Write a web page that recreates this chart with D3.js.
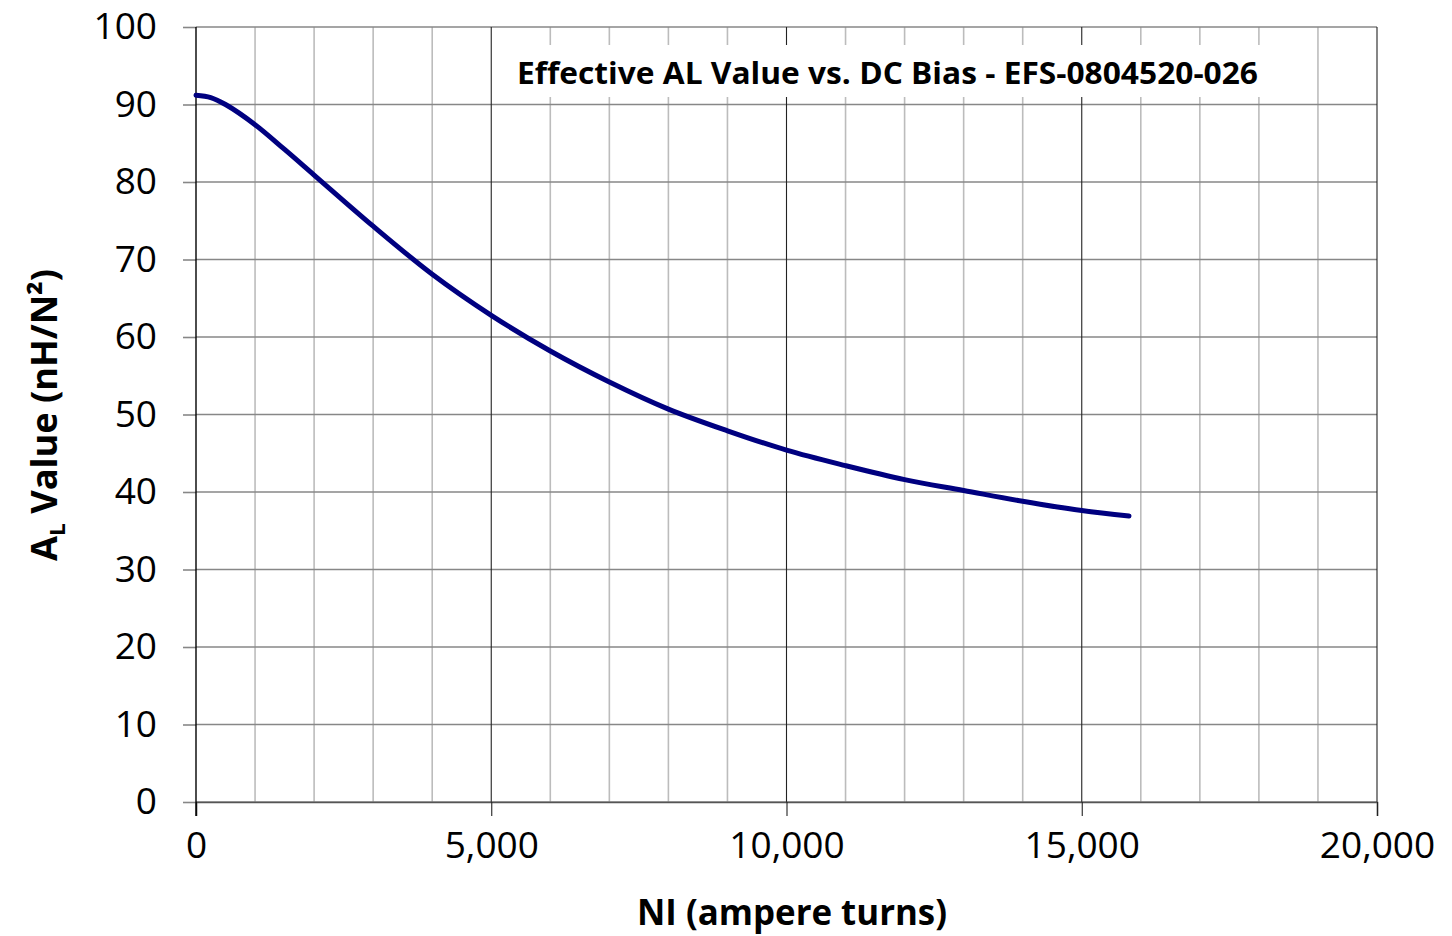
<!DOCTYPE html>
<html>
<head>
<meta charset="utf-8">
<script src="https://cdn.jsdelivr.net/npm/d3@7"></script>
<style>
  body { margin: 0; background: #fff; }
  text { font-family: "Open Sans", "DejaVu Sans", sans-serif; fill: #000; }
</style>
</head>
<body>
<svg id="chart"></svg>
<script>
// NI (ampere turns) vs effective AL value (nH/N^2)
var niValues = [0, 250, 500, 1000, 1500, 2000, 3000, 4000, 5000, 6000, 7000, 8000, 9000, 10000, 11000, 12000, 13000, 14000, 15000, 15800];
var alValues = [91.2, 90.9, 90.0, 87.4, 84.2, 80.9, 74.3, 68.1, 62.8, 58.2, 54.2, 50.7, 47.9, 45.4, 43.4, 41.6, 40.2, 38.8, 37.6, 36.9];
var xTicks = [0, 5000, 10000, 15000, 20000];
var xMinor = d3.range(0, 20001, 1000);
var yTicks = d3.range(0, 101, 10);
var chartTitle = "Effective AL Value vs. DC Bias - EFS-0804520-026";

var width = 1452, height = 936;
var margin = { top: 27, right: 75, bottom: 134, left: 196 };

var svg = d3.select("#chart").attr("width", width).attr("height", height);

var xScale = d3.scaleLinear().domain([0, 20000]).range([margin.left, width - margin.right]);
var yScale = d3.scaleLinear().domain([0, 100]).range([height - margin.bottom, margin.top]);

var grid = svg.append("g");

// vertical minor gridlines
grid.selectAll("line.vminor").data(xMinor.filter(function (d) { return d % 5000 != 0; }))
  .enter().append("line").attr("class", "vminor")
  .attr("x1", function (d) { return xScale(d); }).attr("x2", function (d) { return xScale(d); })
  .attr("y1", yScale(100)).attr("y2", yScale(0))
  .attr("stroke", "#bcbcbc").attr("stroke-width", 1.6);

// horizontal gridlines
grid.selectAll("line.h").data(yTicks)
  .enter().append("line").attr("class", "h")
  .attr("x1", xScale(0)).attr("x2", xScale(20000))
  .attr("y1", function (d) { return yScale(d); }).attr("y2", function (d) { return yScale(d); })
  .attr("stroke", "#878787").attr("stroke-width", 1.6);

// major vertical gridlines
grid.selectAll("line.vmajor").data(xTicks.slice(1))
  .enter().append("line").attr("class", "vmajor")
  .attr("x1", function (d) { return xScale(d); }).attr("x2", function (d) { return xScale(d); })
  .attr("y1", yScale(100)).attr("y2", yScale(0))
  .attr("stroke", "#222").attr("stroke-width", 1.1);

// axes
var xAxis = d3.axisBottom(xScale).tickValues(xTicks).tickSize(14).tickPadding(16)
  .tickFormat(d3.format(","));
var gx = svg.append("g").attr("transform", "translate(0," + yScale(0) + ")").call(xAxis);
gx.select(".domain").attr("stroke", "#555").attr("stroke-width", 1.6);
gx.selectAll(".tick line").attr("stroke", "#222").attr("stroke-width", 1.1);
gx.selectAll(".tick text").style("font-size", "37px").attr("dy", "0.71em");

var yAxis = d3.axisLeft(yScale).tickValues(yTicks).tickSize(13).tickPadding(26);
var gy = svg.append("g").attr("transform", "translate(" + xScale(0) + ",0)").call(yAxis);
gy.select(".domain").remove();
gy.selectAll(".tick line").attr("stroke", "#878787").attr("stroke-width", 1.6);
gy.selectAll(".tick text").style("font-size", "37px");
gy.append("line").attr("x1", 0).attr("x2", 0).attr("y1", yScale(100)).attr("y2", yScale(0) + 14)
  .attr("stroke", "#000").attr("stroke-width", 1.4);

// the curve
var line = d3.line()
  .x(function (d, i) { return xScale(niValues[i]); })
  .y(function (d, i) { return yScale(alValues[i]); })
  .curve(d3.curveCatmullRom.alpha(0.5));
svg.append("path").datum(alValues).attr("d", line)
  .attr("fill", "none").attr("stroke", "#000080").attr("stroke-width", 5)
  .attr("stroke-linecap", "round");

// title with white box
svg.append("rect").attr("x", 505).attr("y", 45).attr("width", 765).attr("height", 52).attr("fill", "#fff");
svg.append("text").attr("x", 517).attr("y", 84)
  .attr("textLength", 741).attr("lengthAdjust", "spacingAndGlyphs")
  .style("font-size", "31px").style("font-weight", "bold")
  .text(chartTitle);

// x label
svg.append("text").attr("x", 792).attr("y", 925).attr("text-anchor", "middle")
  .attr("textLength", 310).attr("lengthAdjust", "spacingAndGlyphs")
  .style("font-size", "35px").style("font-weight", "bold")
  .text("NI (ampere turns)");

// y label
var yl = svg.append("text").attr("transform", "translate(57,415) rotate(-90)")
  .attr("text-anchor", "middle")
  .attr("textLength", 292).attr("lengthAdjust", "spacingAndGlyphs")
  .style("font-size", "35px").style("font-weight", "bold");
yl.append("tspan").text("A");
yl.append("tspan").attr("dy", 8).style("font-size", "22px").text("L");
yl.append("tspan").attr("dy", -8).text(" Value (nH/N\u00b2)");
</script>
</body>
</html>
